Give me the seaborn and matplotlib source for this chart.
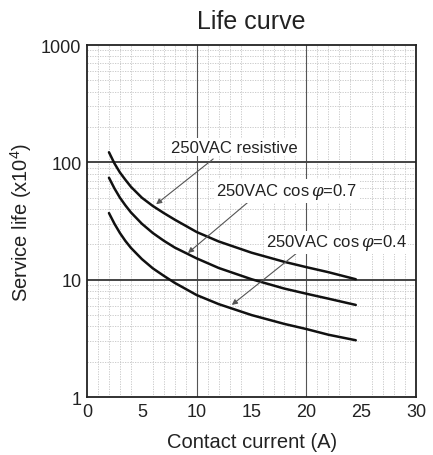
import numpy as np
import pandas as pd
import seaborn as sns
import matplotlib
matplotlib.use("Agg")
import matplotlib.pyplot as plt
from matplotlib.ticker import FixedLocator, LogLocator, NullFormatter

# contact current (A)
current = [2, 2.5, 3, 3.5, 4, 5, 6, 7, 8, 10, 12, 15, 18, 20, 22, 24.5]
# service life (x10^4)
life_resistive = [122, 98, 82, 71, 62, 50, 42.5, 37, 32.5, 25.5, 21.2, 17, 14.2, 12.8, 11.6, 10.1]
life_cos07 = [74, 60, 50, 43, 37.5, 30, 25, 21.5, 18.8, 15.2, 12.6, 10.1, 8.4, 7.6, 6.9, 6.1]
life_cos04 = [37, 30, 25, 21.4, 18.7, 15, 12.5, 10.8, 9.4, 7.4, 6.2, 5.0, 4.2, 3.8, 3.4, 3.05]

series_names = ["250VAC resistive", "250VAC cos$\\,\\varphi$=0.7", "250VAC cos$\\,\\varphi$=0.4"]
x_ticks = [0, 5, 10, 15, 20, 25, 30]
y_ticks = [1, 10, 100, 1000]

df = pd.concat([
    pd.DataFrame({"current": current, "life": life_resistive, "load": series_names[0]}),
    pd.DataFrame({"current": current, "life": life_cos07, "load": series_names[1]}),
    pd.DataFrame({"current": current, "life": life_cos04, "load": series_names[2]}),
])

sns.set_style("white")
plt.rcParams["font.family"] = ["Liberation Sans", "DejaVu Sans"]
plt.rcParams["mathtext.fontset"] = "custom"
plt.rcParams["mathtext.rm"] = "Liberation Sans"
plt.rcParams["mathtext.it"] = "DejaVu Serif:italic"

fig = plt.figure(figsize=(4.33, 4.56), dpi=100)
ax = fig.add_axes([0.201, 0.127, 0.76, 0.772])

ax.set_yscale("log")
ax.set_xlim(0, 30)
ax.set_ylim(1, 1000)

# minor grid
ax.xaxis.set_minor_locator(FixedLocator(np.arange(0, 31, 1)))
ax.yaxis.set_minor_locator(LogLocator(base=10, subs=np.arange(2, 10)))
ax.yaxis.set_minor_formatter(NullFormatter())
ax.grid(which="minor", color="#c4c4c4", linestyle=(0, (1.5, 1.5)), linewidth=0.6)
ax.grid(which="major", visible=False)
for xv in [10, 20]:
    ax.axvline(xv, color="#555555", linewidth=0.8, zorder=1)
for yv in [10, 100]:
    ax.axhline(yv, color="#444444", linewidth=1.4, zorder=1)

sns.lineplot(data=df, x="current", y="life", hue="load", units="load",
             estimator=None, palette=["#111111"] * 3, linewidth=1.8,
             legend=False, ax=ax, zorder=3)

ax.set_xticks(x_ticks)
ax.set_xticklabels([str(v) for v in x_ticks])
ax.set_yticks(y_ticks)
ax.set_yticklabels([str(v) for v in y_ticks])
ax.tick_params(which="both", length=0, labelsize=13, colors="#222222", pad=4)

for s in ax.spines.values():
    s.set_color("#222222")
    s.set_linewidth(1.3)

ax.set_xlabel("Contact current (A)", fontsize=14.5, color="#222222", labelpad=9)
ax.set_ylabel("Service life (x10$^4$)", fontsize=14.5, color="#222222", labelpad=5)
ax.set_title("Life curve", fontsize=18, color="#222222", pad=12)

arrow = dict(arrowstyle="-|>", color="#555555", lw=0.8, mutation_scale=8,
             shrinkA=0, shrinkB=0)
ann_font = dict(fontsize=12, color="#222222", ha="center", va="center",
                bbox=dict(boxstyle="square,pad=0.1", fc="white", ec="none"))
ax.annotate("", xy=(6.3, 44), xytext=(11.5, 107), arrowprops=arrow, zorder=4)
ax.text(13.4, 135, series_names[0], zorder=5, **ann_font)
ax.annotate("", xy=(9.2, 16.9), xytext=(14.7, 46), arrowprops=arrow, zorder=4)
ax.text(18.2, 57, series_names[1], zorder=5, **ann_font)
ax.annotate("", xy=(13.2, 6.1), xytext=(19.4, 17.7), arrowprops=arrow, zorder=4)
ax.text(22.7, 20.8, series_names[2], zorder=5, **ann_font)

fig.savefig("out.png", dpi=100)
